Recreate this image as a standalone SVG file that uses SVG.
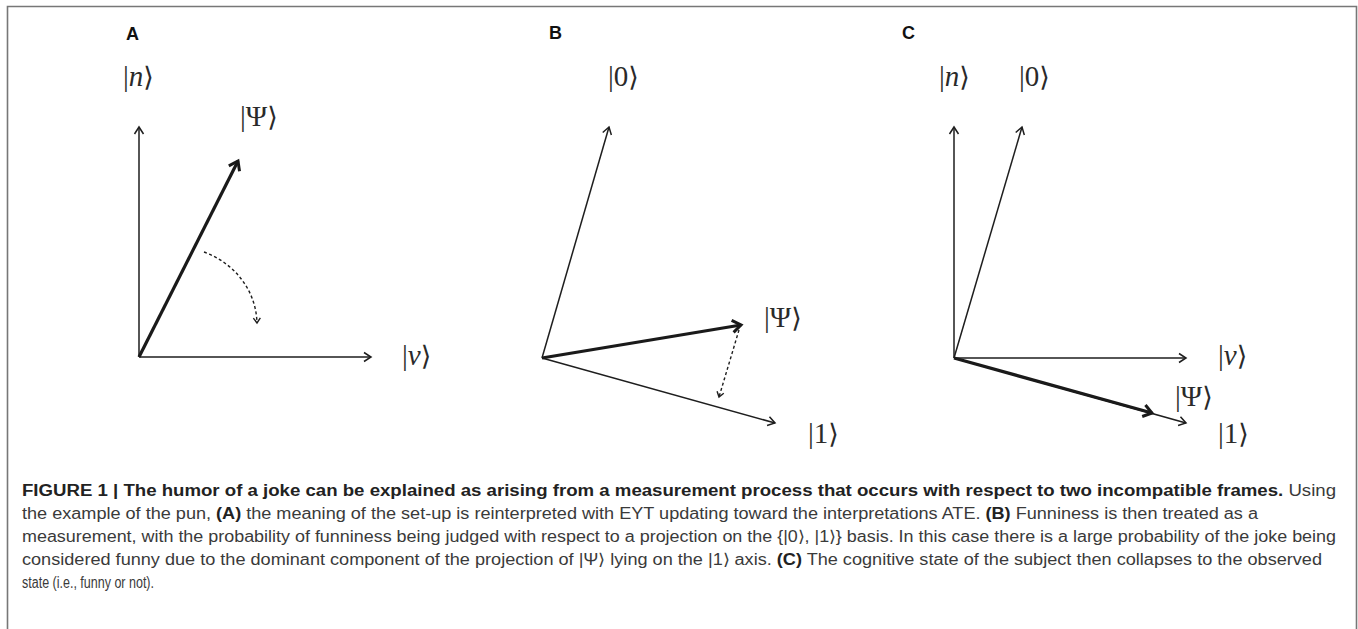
<svg xmlns="http://www.w3.org/2000/svg" width="1358" height="629" viewBox="0 0 1358 629">
  <style>
    .ax { stroke: #1e1e1e; stroke-width: 1.5; fill: none; marker-end: url(#ah); }
    .psi { stroke: #1a1a1a; stroke-width: 3.2; fill: none; marker-end: url(#ahb); }
    .dash { stroke: #1e1e1e; stroke-width: 1.4; fill: none; stroke-dasharray: 3 2.5; marker-end: url(#ahd); }
    .m { font-family: "Liberation Serif", "DejaVu Serif", serif; font-size: 29px; fill: #2a2a2a; }
    .it { font-style: italic; }
    .rb { font-family: "DejaVu Sans", "DejaVu Serif", sans-serif; font-weight: 200; font-size: 27px; fill: #2a2a2a; }
    .pl { font-family: "Liberation Sans", Arial, sans-serif; font-size: 18px; font-weight: bold; fill: #111; }
    .cap { font-family: "Liberation Sans", Arial, sans-serif; font-size: 16px; fill: #3a3a3a; }
    .b { font-weight: bold; fill: #222; }
  </style>
  <defs>
    <marker id="ah" viewBox="-10 -7 12 14" refX="0" refY="0" markerWidth="12" markerHeight="14" orient="auto" markerUnits="userSpaceOnUse">
      <path d="M-7,-4.5 L0,0 L-7,4.5" fill="none" stroke="#1e1e1e" stroke-width="1.5"/>
    </marker>
    <marker id="ahb" viewBox="-13 -9 16 18" refX="0" refY="0" markerWidth="16" markerHeight="18" orient="auto" markerUnits="userSpaceOnUse">
      <path d="M-8.5,-6 L0,0 L-8.5,6" fill="none" stroke="#1a1a1a" stroke-width="3"/>
    </marker>
    <marker id="ahd" viewBox="-8 -6 10 12" refX="0" refY="0" markerWidth="10" markerHeight="12" orient="auto" markerUnits="userSpaceOnUse">
      <path d="M-5,-3.5 L0,0 L-5,3.5" fill="none" stroke="#1e1e1e" stroke-width="1.4"/>
    </marker>
  </defs>

  <rect x="0" y="0" width="1358" height="629" fill="#ffffff"/>
  <path d="M7.5,640 L7.5,6.5 L1356.5,6.5 L1356.5,640" fill="none" stroke="#777" stroke-width="1.6"/>

  <g id="connectors">
    <!-- Panel A -->
    <line class="ax" x1="139" y1="357" x2="139" y2="127"/>
    <line class="ax" x1="139" y1="357" x2="371" y2="357"/>
    <line class="psi" x1="139" y1="357" x2="238" y2="161"/>
    <path class="dash" d="M204,252 C232,262 256,288 257,323"/>
    <!-- Panel B -->
    <line class="ax" x1="542" y1="358" x2="609" y2="127"/>
    <line class="ax" x1="542" y1="358" x2="775" y2="423"/>
    <line class="psi" x1="542" y1="358" x2="741" y2="325"/>
    <line class="dash" x1="739" y1="330" x2="719" y2="397"/>
    <!-- Panel C -->
    <line class="ax" x1="954" y1="358" x2="954" y2="127"/>
    <line class="ax" x1="954" y1="358" x2="1022" y2="127"/>
    <line class="ax" x1="954" y1="358" x2="1186" y2="358"/>
    <line class="ax" x1="954" y1="358" x2="1186" y2="423"/>
    <line class="psi" x1="954" y1="358" x2="1152" y2="413"/>
  </g>

  <g id="panelA">
    <text class="pl" x="126" y="40">A</text>
    <g id="A-n"><text class="m" x="123" y="86">|<tspan class="it">n</tspan><tspan class="rb">⟩</tspan></text></g>
    <g id="A-psi"><text class="m" x="240" y="126">|Ψ<tspan class="rb">⟩</tspan></text></g>
    <g id="A-v"><text class="m" x="402" y="365">|<tspan class="it">v</tspan><tspan class="rb">⟩</tspan></text></g>
  </g>

  <g id="panelB">
    <text class="pl" x="549" y="39">B</text>
    <g id="B-0"><text class="m" x="608" y="86">|0<tspan class="rb">⟩</tspan></text></g>
    <g id="B-psi"><text class="m" x="764" y="327">|Ψ<tspan class="rb">⟩</tspan></text></g>
    <g id="B-1"><text class="m" x="808" y="443">|1<tspan class="rb">⟩</tspan></text></g>
  </g>

  <g id="panelC">
    <text class="pl" x="902" y="39">C</text>
    <g id="C-n"><text class="m" x="939" y="86">|<tspan class="it">n</tspan><tspan class="rb">⟩</tspan></text></g>
    <g id="C-0"><text class="m" x="1019" y="86">|0<tspan class="rb">⟩</tspan></text></g>
    <g id="C-v"><text class="m" x="1218" y="365">|<tspan class="it">v</tspan><tspan class="rb">⟩</tspan></text></g>
    <g id="C-psi"><text class="m" x="1175" y="406">|Ψ<tspan class="rb">⟩</tspan></text></g>
    <g id="C-1"><text class="m" x="1218" y="443">|1<tspan class="rb">⟩</tspan></text></g>
  </g>

  <g id="caption">
    <text class="cap" x="22" y="496" textLength="1314" lengthAdjust="spacingAndGlyphs"><tspan class="b">FIGURE 1 | The humor of a joke can be explained as arising from a measurement process that occurs with respect to two incompatible frames.</tspan> Using</text>
    <text class="cap" x="22" y="519" textLength="1236" lengthAdjust="spacingAndGlyphs">the example of the pun, <tspan class="b">(A)</tspan> the meaning of the set-up is reinterpreted with EYT updating toward the interpretations ATE. <tspan class="b">(B)</tspan> Funniness is then treated as a</text>
    <text class="cap" x="22" y="542" textLength="1314" lengthAdjust="spacingAndGlyphs">measurement, with the probability of funniness being judged with respect to a projection on the {|0⟩, |1⟩} basis. In this case there is a large probability of the joke being</text>
    <text class="cap" x="22" y="565" textLength="1300" lengthAdjust="spacingAndGlyphs">considered funny due to the dominant component of the projection of |Ψ⟩ lying on the |1⟩ axis. <tspan class="b">(C)</tspan> The cognitive state of the subject then collapses to the observed</text>
    <text class="cap" x="22" y="588" textLength="132" lengthAdjust="spacingAndGlyphs">state (i.e., funny or not).</text>
  </g>
</svg>
